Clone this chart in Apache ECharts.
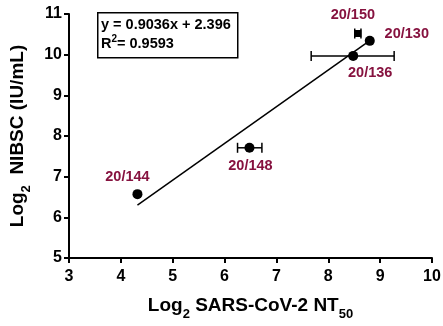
<!DOCTYPE html>
<html><head><meta charset="utf-8">
<script src="https://cdn.jsdelivr.net/npm/echarts@6/dist/echarts.min.js"></script>
<style>html,body{margin:0;padding:0;background:#fff}#c{width:443px;height:326px}</style>
</head><body><div id="c"></div>
<script>
const names = ['20/144', '20/148', '20/136', '20/130', '20/150'];
const xVals = [4.32, 6.48, 8.48, 8.80, 8.57];
const yVals = [6.57, 7.71, 9.97, 10.34, 10.52];
const xLow  = [4.32, 6.25, 7.67, 8.80, 8.51];
const xHigh = [4.32, 6.72, 9.27, 8.80, 8.63];
const slope = 0.9036, intercept = 2.396, r2 = '0.9593';
const fitRange = [4.32, 8.80];
const xTicks = [3, 4, 5, 6, 7, 8, 9, 10];
const yTicks = [5, 6, 7, 8, 9, 10, 11];

const labelOffsets = [[-10, -17], [1, 18], [17, 17], [37, -7], [-5, -19]];
const symbols = ['circle', 'circle', 'circle', 'circle', 'rect'];
const symSizes = [10, 10, 10, 10, 7];
const maroon = '#86123f';
const FONT = 'Liberation Sans, Arial, sans-serif';

const chart = echarts.init(document.getElementById('c'));
const points = names.map((n, i) => ({
  name: n, value: [xVals[i], yVals[i]], symbol: symbols[i], symbolSize: symSizes[i],
  label: { show: true, formatter: n, position: 'inside', offset: labelOffsets[i],
    color: maroon, fontFamily: FONT, fontWeight: 'bold', fontSize: 14.5 }
}));
const errData = names.map((n, i) => [xLow[i], xHigh[i], yVals[i]]).filter(d => d[1] > d[0]);
const fitData = fitRange.map(x => [x, slope * x + intercept]);

const richName = {
  n: { fontFamily: FONT, fontWeight: 'bold', fontSize: 19, color: '#000', verticalAlign: 'bottom', lineHeight: 22 },
  s: { fontFamily: FONT, fontWeight: 'bold', fontSize: 13, color: '#000', verticalAlign: 'bottom', lineHeight: 13, padding: [0, 0, -6, 0] }
};

chart.setOption({
  animation: false,
  grid: { left: 69, right: 11, top: 14, bottom: 68, containLabel: false, outerBoundsMode: 'none' },
  xAxis: {
    type: 'value', min: xTicks[0], max: xTicks[xTicks.length - 1], interval: 1,
    axisLine: { lineStyle: { color: '#000', width: 2 } },
    axisTick: { show: true, length: 5, lineStyle: { color: '#000', width: 2 } },
    splitLine: { show: false },
    axisLabel: { color: '#000', fontFamily: FONT, fontWeight: 'bold', fontSize: 16, margin: 11 },
    name: '{n|Log}{s|2}{n| SARS-CoV-2 NT}{s|50}', nameLocation: 'middle', nameGap: 35,
    nameTextStyle: { rich: richName }
  },
  yAxis: {
    type: 'value', min: yTicks[0], max: yTicks[yTicks.length - 1], interval: 1,
    axisLine: { show: true, lineStyle: { color: '#000', width: 2 } },
    axisTick: { show: true, length: 5, lineStyle: { color: '#000', width: 2 } },
    splitLine: { show: false },
    axisLabel: { color: '#000', fontFamily: FONT, fontWeight: 'bold', fontSize: 16, margin: 7 },
    name: '{n|Log}{s|2}{n|  NIBSC (IU/mL)}', nameLocation: 'middle', nameGap: 42,
    nameTextStyle: { rich: richName }
  },
  graphic: [
    { type: 'rect', left: 97, top: 12, shape: { width: 140, height: 45 },
      style: { fill: '#fff', stroke: '#000', lineWidth: 1.5 }, z: 10 },
    { type: 'text', left: 101, top: 17, z: 11,
      style: { text: '{t|y = ' + slope + 'x + ' + intercept + '}\n{t|R}{sup|2}{t|= ' + r2 + '}',
        rich: {
          t: { fontFamily: FONT, fontWeight: 'bold', fontSize: 14.5, fill: '#000', lineHeight: 19 },
          sup: { fontFamily: FONT, fontWeight: 'bold', fontSize: 10, fill: '#000', lineHeight: 19, padding: [0, 0, 8, 0] }
        } } }
  ],
  series: [
    { type: 'line', data: fitData, symbol: 'none', lineStyle: { color: '#000', width: 1.5 }, z: 2 },
    { type: 'custom', z: 3, data: errData,
      renderItem: function (params, api) {
        const a = api.coord([api.value(0), api.value(2)]);
        const b = api.coord([api.value(1), api.value(2)]);
        const h = 5;
        const st = { stroke: '#000', lineWidth: 1.5 };
        return { type: 'group', children: [
          { type: 'line', shape: { x1: a[0], y1: a[1], x2: b[0], y2: b[1] }, style: st },
          { type: 'line', shape: { x1: a[0], y1: a[1] - h, x2: a[0], y2: a[1] + h }, style: st },
          { type: 'line', shape: { x1: b[0], y1: b[1] - h, x2: b[0], y2: b[1] + h }, style: st }
        ] };
      } },
    { type: 'scatter', data: points, itemStyle: { color: '#000', opacity: 1 }, z: 4 }
  ]
});
</script></body></html>
